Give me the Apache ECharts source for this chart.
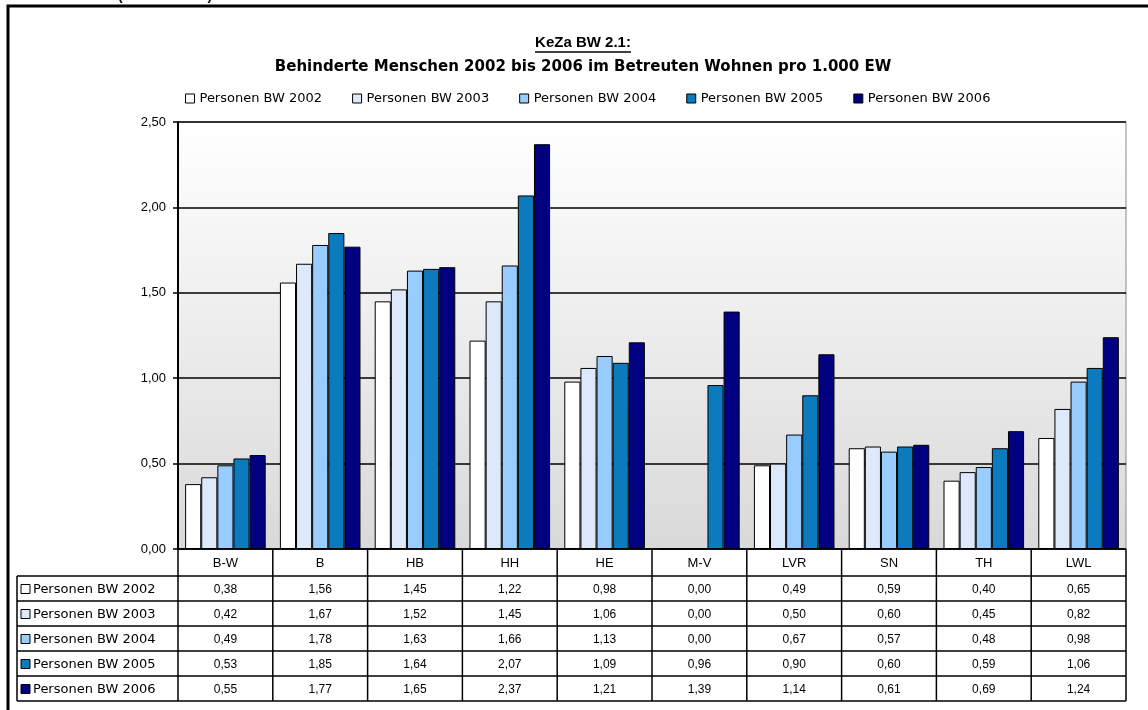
<!DOCTYPE html>
<html>
<head>
<meta charset="utf-8">
<script src="https://cdn.jsdelivr.net/npm/echarts@6/dist/echarts.min.js"></script>
<style>
  html, body { margin: 0; padding: 0; background: #fff; }
  #chart { width: 1148px; height: 710px; }
</style>
</head>
<body>
<div id="chart"></div>
<script>
// Daten (pro 1.000 EW)
var categories = ["B-W", "B", "HB", "HH", "HE", "M-V", "LVR", "SN", "TH", "LWL"];
var seriesNames = ["Personen BW 2002", "Personen BW 2003", "Personen BW 2004", "Personen BW 2005", "Personen BW 2006"];
var bw2002 = [0.38, 1.56, 1.45, 1.22, 0.98, 0.00, 0.49, 0.59, 0.40, 0.65];
var bw2003 = [0.42, 1.67, 1.52, 1.45, 1.06, 0.00, 0.50, 0.60, 0.45, 0.82];
var bw2004 = [0.49, 1.78, 1.63, 1.66, 1.13, 0.00, 0.67, 0.57, 0.48, 0.98];
var bw2005 = [0.53, 1.85, 1.64, 2.07, 1.09, 0.96, 0.90, 0.60, 0.59, 1.06];
var bw2006 = [0.55, 1.77, 1.65, 2.37, 1.21, 1.39, 1.14, 0.61, 0.69, 1.24];
var yTicks = [0, 0.5, 1.0, 1.5, 2.0, 2.5];

var allData = [bw2002, bw2003, bw2004, bw2005, bw2006];
var colors = ["#ffffff", "#dde9fb", "#99ccff", "#0b7bbd", "#000080"];

var FONT = "Liberation Sans";
var WIDE = "DejaVu Sans";
var W = 1148;
var gridLeft = 178, gridRight = 22, gridTop = 122, gridBottom = 161;
var plotRight = W - gridRight;
var cellW = (plotRight - gridLeft) / categories.length;
var tableTop = 549, headH = 27, rowH = 25, labelLeft = 17;

function fmt(v) { return v.toFixed(2).replace(".", ","); }

// Datentabelle unter dem Diagramm
function buildTable() {
  var els = [];
  var bodyTop = tableTop + headH;
  var bottom = bodyTop + rowH * seriesNames.length;
  var ln = function (x1, y1, x2, y2) {
    els.push({ type: "line", shape: { x1: x1, y1: y1, x2: x2, y2: y2 },
      style: { stroke: "#000", lineWidth: 1.5 }, z: 10 });
  };
  // horizontale Linien
  ln(gridLeft, tableTop, plotRight, tableTop);
  for (var r = 0; r <= seriesNames.length; r++) {
    ln(labelLeft, bodyTop + r * rowH, plotRight, bodyTop + r * rowH);
  }
  // vertikale Linien
  ln(labelLeft, bodyTop, labelLeft, bottom);
  for (var c = 0; c <= categories.length; c++) {
    ln(gridLeft + c * cellW, tableTop, gridLeft + c * cellW, bottom);
  }
  // Kopfzeile
  categories.forEach(function (cat, i) {
    els.push({ type: "text", x: gridLeft + (i + 0.5) * cellW, y: tableTop + headH / 2 + 1, z: 11,
      style: { text: cat, font: "13px " + FONT, fill: "#000", align: "center", verticalAlign: "middle" } });
  });
  // Zeilen
  seriesNames.forEach(function (name, r) {
    var cy = bodyTop + r * rowH + rowH / 2 + 1;
    els.push({ type: "rect", shape: { x: labelLeft + 4, y: cy - 5, width: 9, height: 9 }, z: 11,
      style: { fill: colors[r], stroke: "#000", lineWidth: 1 } });
    els.push({ type: "text", x: labelLeft + 16, y: cy, z: 11,
      style: { text: name, font: "13px " + WIDE, fill: "#000", align: "left", verticalAlign: "middle" } });
    allData[r].forEach(function (v, i) {
      els.push({ type: "text", x: gridLeft + (i + 0.5) * cellW, y: cy, z: 11,
        style: { text: fmt(v), font: "12px " + FONT, fill: "#000", align: "center", verticalAlign: "middle" } });
    });
  });
  return els;
}

var graphics = [
  // Rahmen
  { type: "rect", shape: { x: 8, y: 6, width: 1160, height: 730 },
    style: { fill: null, stroke: "#000", lineWidth: 3 }, z: 20 },
  { type: "text", x: 165, y: -4, style: { text: "(KeZa BW 2.1)", font: "bold 14px " + FONT, fill: "#000",
    align: "center", verticalAlign: "middle" } },
  { type: "text", x: 583, y: 43, style: { text: "KeZa BW 2.1:", font: "bold 15px " + FONT, fill: "#000",
    align: "center", verticalAlign: "middle" } },
  { type: "line", shape: { x1: 535, y1: 52, x2: 631, y2: 52 }, style: { stroke: "#000", lineWidth: 1.5 } },
  { type: "text", x: 583, y: 67, style: { text: "Behinderte Menschen 2002 bis 2006 im Betreuten Wohnen pro 1.000 EW",
    font: "bold 15px " + WIDE, fill: "#000", align: "center", verticalAlign: "middle" } }
].concat(buildTable());

var chart = echarts.init(document.getElementById("chart"));
chart.setOption({
  animation: false,
  textStyle: { fontFamily: FONT },
  legend: {
    top: 87, left: 180,
    itemWidth: 9, itemHeight: 9, itemGap: 30,
    icon: "rect",
    itemStyle: { borderColor: "#000", borderWidth: 1 },
    textStyle: { fontSize: 13, color: "#000", fontFamily: WIDE },
    data: seriesNames
  },
  grid: {
    left: gridLeft, right: gridRight, top: gridTop, bottom: gridBottom,
    show: true, borderColor: "#8a8a8a", borderWidth: 1,
    backgroundColor: new echarts.graphic.LinearGradient(0, 0, 0, 1, [
      { offset: 0, color: "#ffffff" }, { offset: 1, color: "#d9d9d9" }
    ])
  },
  xAxis: {
    type: "category", data: categories,
    axisLine: { show: false }, axisTick: { show: false }, axisLabel: { show: false }
  },
  yAxis: {
    type: "value", min: yTicks[0], max: yTicks[yTicks.length - 1], interval: 0.5,
    axisLine: { show: true, lineStyle: { color: "#000", width: 2 } },
    axisTick: { show: true, length: 5, lineStyle: { color: "#000", width: 1.5 } },
    axisLabel: { color: "#000", fontSize: 13, margin: 12, formatter: fmt },
    splitLine: { lineStyle: { color: "#000", width: 1.5 } }
  },
  series: seriesNames.map(function (name, i) {
    return {
      name: name, type: "bar", data: allData[i],
      barGap: "0%", barCategoryGap: "15%",
      itemStyle: { color: colors[i], borderColor: "#000", borderWidth: 1 }
    };
  }),
  graphic: graphics
});
</script>
</body>
</html>
